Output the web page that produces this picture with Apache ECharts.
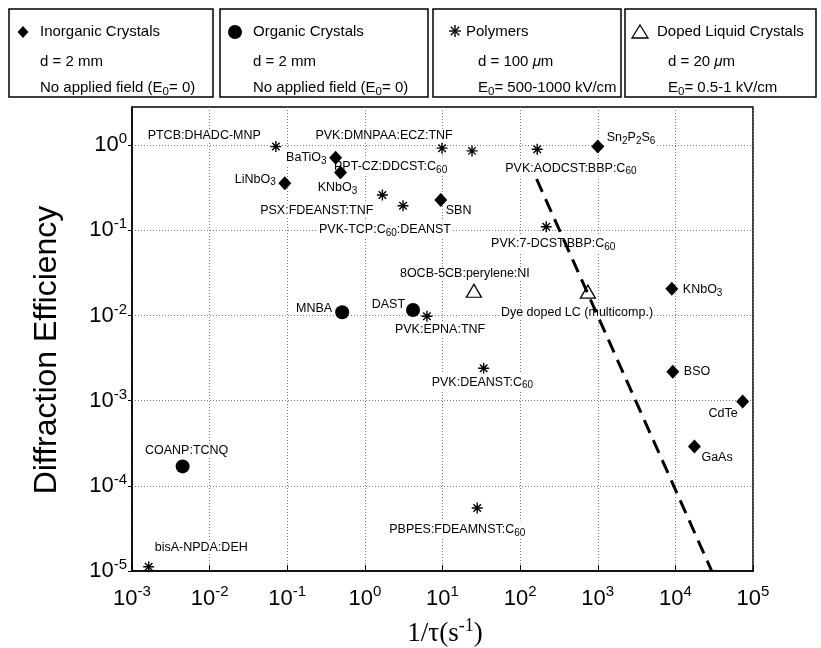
<!DOCTYPE html>
<html><head><meta charset="utf-8">
<script src="https://cdn.jsdelivr.net/npm/echarts@6/dist/echarts.min.js"></script>
<style>html,body{margin:0;padding:0;background:#fff}#c{width:821px;height:648px}</style>
</head><body><div id="c"></div>
<script>
// ---- data ----
const inorgNames = ['BaTiO{sub|3}','KNbO{sub|3}','LiNbO{sub|3}','SBN','Sn{sub|2}P{sub|2}S{sub|6}','KNbO{sub|3}','BSO','CdTe','GaAs'];
const inorgX = [0.42, 0.485, 0.093, 9.5, 1000, 9000, 9270, 73600, 17600];
const inorgY = [0.71, 0.476, 0.357, 0.226, 0.96, 0.0206, 0.00219, 0.00098, 0.00029];

const orgNames = ['MNBA','DAST','COANP:TCNQ'];
const orgX = [0.51, 4.17, 0.00449];
const orgY = [0.0109, 0.0116, 0.000169];

const polyNames = ['PTCB:DHADC-MNP','PVK:DMNPAA:ECZ:TNF','PPT-CZ:DDCST:C{sub|60}','PVK:AODCST:BBP:C{sub|60}','PSX:FDEANST:TNF','PVK-TCP:C{sub|60}:DEANST','PVK:7-DCST:BBP:C{sub|60}','PVK:EPNA:TNF','PVK:DEANST:C{sub|60}','PBPES:FDEAMNST:C{sub|60}','bisA-NPDA:DEH'];
const polyX = [0.0713, 9.87, 24, 166, 1.68, 3.1, 217, 6.3, 33.9, 28, 0.00164];
const polyY = [0.96, 0.92, 0.855, 0.895, 0.259, 0.194, 0.11, 0.0098, 0.0024, 5.5e-5, 1.12e-5];

const lcNames = ['8OCB-5CB:perylene:NI','Dye doped LC (multicomp.)'];
const lcX = [25.4, 747];
const lcY = [0.0195, 0.019];

const trendX = [163, 29400];
const trendY = [0.4, 1e-5];

const yTickVals = [1e-5, 1e-4, 1e-3, 1e-2, 1e-1, 1];

// ---- label layout (align, dx, dy) ----
const inorgLab = [['right',-8,0],['center',-3,15],['right',-8,-4],['left',4,10],['left',8,-9],['left',10,1],['left',10,0],['right',-4,12],['left',6,11]];
const orgLab = [['right',-9,-4],['right',-7,-5],['center',4,-16]];
const polyLab = [['right',-14,-11],['center',-58,-13],['left',-139,16],['left',-33,19],['right',-8,15],['center',-18,24],['center',7,17],['left',-33,13],['left',-53,14],['left',-89,22],['left',5,-19]];
const lcLab = [['left',-75,-17],['left',-88,21]];

const FONT = 'Liberation Sans, Arial, Helvetica, sans-serif';
const SERIF = 'Liberation Serif, Times New Roman, serif';

function items(xs, ys, names, lab) {
  return xs.map((x, i) => ({
    value: [x, ys[i]], name: names[i],
    label: { align: lab[i][0], offset: [lab[i][1], lab[i][2]] }
  }));
}
const labelBase = {
  show: true, position: 'inside', verticalAlign: 'middle', opacity: 1,
  formatter: p => p.name, fontSize: 12.5, fontFamily: FONT, color: '#000',
  backgroundColor: '#fff', padding: [0, 1],
  rich: {
    sub: { fontSize: 10, fontFamily: FONT, color: '#000', padding: [7, 0, 0, 0] }
  }
};
function supFmt(v) {
  const e = Math.log10(v); const r = Math.round(e);
  if (Math.abs(e - r) > 1e-6) return '';
  return '10{sup|' + r + '}';
}
const ASTER = 'path://M0,5L10,5M5,0L5,10M1.6,1.6L8.4,8.4M8.4,1.6L1.6,8.4';

const chart = echarts.init(document.getElementById('c'), null, { renderer: 'canvas' });
const LFS = 15;
const legendTxt = (x, y, t) => ({
  type: 'text', x: x, y: y,
  style: { text: t, fontSize: LFS, fontFamily: FONT, fill: '#000', textVerticalAlign: 'middle', textAlign: 'left',
    rich: { sub: { fontSize: 11.5, fontFamily: FONT, fill: '#000', padding: [7, 0, 0, 0] },
            i: { fontSize: LFS, fontFamily: FONT, fontStyle: 'italic', fill: '#000' } } }
});
const box = (x, w) => ({ type: 'rect', shape: { x: x, y: 9, width: w, height: 88 }, style: { fill: 'none', stroke: '#000', lineWidth: 1.5 } });
const seg = (x1, y1, x2, y2) => ({ type: 'line', shape: { x1, y1, x2, y2 }, style: { stroke: '#000', lineWidth: 1.4 } });

chart.setOption({
  animation: false,
  grid: { left: 132, right: 68, top: 107, bottom: 77, show: true, borderColor: '#000', borderWidth: 1.5 },
  xAxis: {
    type: 'log', logBase: 10, min: 1e-3, max: 1e5, splitNumber: 8,
    axisLine: { show: true, lineStyle: { color: '#000', width: 1.5 } },
    axisTick: { show: true, inside: true, length: 6, lineStyle: { color: '#000' } },
    splitLine: { show: true, lineStyle: { color: '#777', type: [1, 2], width: 1 } },
    axisLabel: { formatter: supFmt, fontSize: 22, fontFamily: FONT, color: '#000', margin: 13,
      rich: { sup: { fontSize: 15, fontFamily: FONT, color: '#000', padding: [0, 0, 14, 0] } } }
  },
  yAxis: {
    type: 'log', logBase: 10, min: 1e-5, max: 2.8, splitNumber: 6,
    axisLine: { show: true, lineStyle: { color: '#000', width: 1.5 } },
    axisTick: { show: true, inside: false, length: 4, lineStyle: { color: '#000' }, customValues: yTickVals },
    splitLine: { show: true, lineStyle: { color: '#777', type: [1, 2], width: 1 } },
    axisLabel: { formatter: supFmt, fontSize: 22, fontFamily: FONT, color: '#000', margin: 5,
      rich: { sup: { fontSize: 15, fontFamily: FONT, color: '#000', padding: [0, 0, 12, 0] } } }
  },
  series: [
    { name: 'Polymers', type: 'scatter', z: 3, symbol: ASTER, symbolSize: 11,
      itemStyle: { color: 'transparent', borderColor: '#000', borderWidth: 1.4, opacity: 1 },
      label: labelBase, data: items(polyX, polyY, polyNames, polyLab) },
    { name: 'Doped Liquid Crystals', type: 'scatter', z: 4, symbol: 'triangle', symbolSize: [15, 13],
      itemStyle: { color: '#fff', borderColor: '#000', borderWidth: 1.3, opacity: 1 },
      label: labelBase, data: items(lcX, lcY, lcNames, lcLab) },
    { name: 'Organic Crystals', type: 'scatter', z: 5, symbol: 'circle', symbolSize: 14,
      itemStyle: { color: '#000', opacity: 1 },
      label: labelBase, data: items(orgX, orgY, orgNames, orgLab) },
    { name: 'Inorganic Crystals', type: 'scatter', z: 6, symbol: 'diamond', symbolSize: [13, 14],
      itemStyle: { color: '#000', opacity: 1 },
      label: labelBase, data: items(inorgX, inorgY, inorgNames, inorgLab) },
    { name: 'trend', type: 'line', z: 10, showSymbol: false, symbol: 'none', silent: true,
      lineStyle: { color: '#000', width: 3, type: [14, 8] },
      data: trendX.map((x, i) => [x, trendY[i]]) }
  ],
  graphic: [
    box(9, 204), box(220, 208), box(433, 188), box(625, 191),
    { type: 'polygon', shape: { points: [[23, 26], [28.5, 32], [23, 38], [17.5, 32]] }, style: { fill: '#000' } },
    legendTxt(40, 32, 'Inorganic Crystals'),
    legendTxt(40, 62, 'd = 2 mm'),
    legendTxt(40, 88, 'No applied field (E{sub|0}= 0)'),
    { type: 'circle', shape: { cx: 235, cy: 32, r: 7 }, style: { fill: '#000' } },
    legendTxt(253, 32, 'Organic Crystals'),
    legendTxt(253, 62, 'd = 2 mm'),
    legendTxt(253, 88, 'No applied field (E{sub|0}= 0)'),
    seg(449, 31, 461, 31), seg(455, 25, 455, 37), seg(450.8, 26.8, 459.2, 35.2), seg(459.2, 26.8, 450.8, 35.2),
    legendTxt(466, 32, 'Polymers'),
    legendTxt(478, 62, 'd = 100 {i|μ}m'),
    legendTxt(478, 88, 'E{sub|0}= 500-1000 kV/cm'),
    { type: 'polygon', shape: { points: [[640, 25], [648, 38], [632, 38]] }, style: { fill: 'none', stroke: '#000', lineWidth: 1.3 } },
    legendTxt(657, 32, 'Doped Liquid Crystals'),
    legendTxt(668, 62, 'd = 20 {i|μ}m'),
    legendTxt(668, 88, 'E{sub|0}= 0.5-1 kV/cm'),
    { type: 'text', x: 47, y: 350, rotation: Math.PI / 2,
      style: { text: 'Diffraction Efficiency', fontSize: 32, fontFamily: FONT, fill: '#000', textAlign: 'center', textVerticalAlign: 'middle' } },
    { type: 'text', x: 445, y: 634,
      style: { text: '1/τ(s{sup|-1})', fontSize: 27, fontFamily: SERIF, fill: '#000', textAlign: 'center', textVerticalAlign: 'middle',
        rich: { sup: { fontSize: 18, fontFamily: SERIF, fill: '#000', padding: [0, 0, 16, 0] } } } }
  ]
});
</script></body></html>
